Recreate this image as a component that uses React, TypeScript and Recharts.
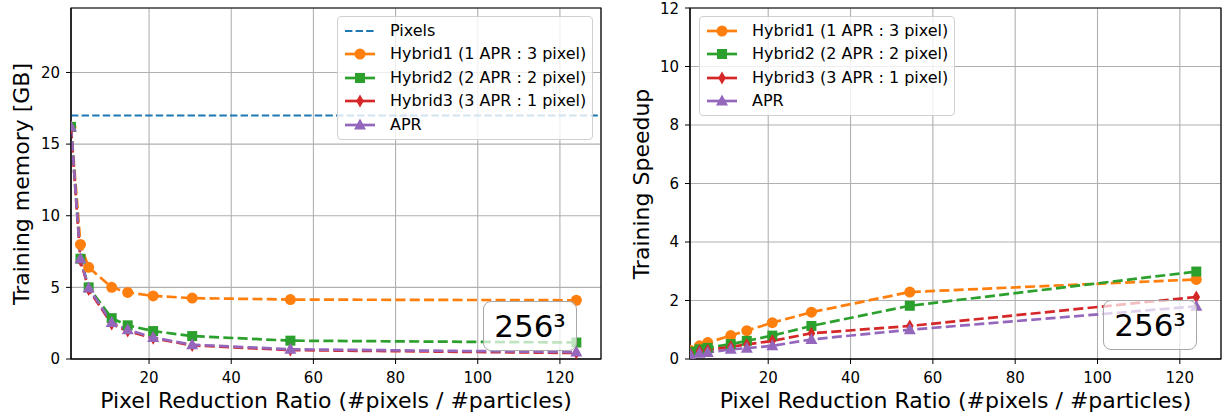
import React from "react";
import {
  CartesianGrid,
  Line,
  LineChart,
  ReferenceArea,
  ReferenceLine,
  XAxis,
  YAxis,
} from "recharts";

const FONT = "DejaVu Sans, sans-serif";

// pixel reduction ratio (#pixels / #particles)
const ratio = [1, 3.3, 5.3, 10.9, 14.8, 21, 30.5, 54.4, 124];
const xTicks = [20, 40, 60, 80, 100, 120];

// training memory [GB]
const pixelsMemory = 17;
const memHybrid1 = [16.2, 8.0, 6.4, 5.0, 4.65, 4.4, 4.25, 4.15, 4.1];
const memHybrid2 = [16.2, 7.0, 5.0, 2.85, 2.35, 1.95, 1.6, 1.28, 1.15];
const memHybrid3 = [16.1, 6.9, 4.85, 2.45, 1.95, 1.45, 0.95, 0.62, 0.42];
const memApr = [16.2, 7.0, 4.95, 2.55, 2.05, 1.5, 1.0, 0.68, 0.48];
const memTicks = [0, 5, 10, 15, 20];

// training speedup
const speedHybrid1 = [0.3, 0.45, 0.56, 0.8, 0.97, 1.24, 1.6, 2.29, 2.72];
const speedHybrid2 = [0.25, 0.33, 0.38, 0.51, 0.62, 0.8, 1.13, 1.82, 2.99];
const speedHybrid3 = [0.2, 0.27, 0.3, 0.42, 0.5, 0.62, 0.88, 1.13, 2.12];
const speedApr = [0.15, 0.2, 0.22, 0.33, 0.37, 0.45, 0.67, 1.0, 1.8];
const speedTicks = [0, 2, 4, 6, 8, 10, 12];

const C = {
  pixels: "#1f77b4",
  h1: "#ff7f0e",
  h2: "#2ca02c",
  h3: "#d62728",
  apr: "#9467bd",
};

const toPoints = (ys: number[]) => ratio.map((x, i) => ({ x, y: ys[i] }));

type MarkerKind = "circle" | "square" | "diamond" | "triangle";

function Marker({ kind, cx, cy, color }: { kind: MarkerKind; cx: number; cy: number; color: string }) {
  if (kind === "circle") return <circle cx={cx} cy={cy} r={5.5} fill={color} />;
  if (kind === "square")
    return <rect x={cx - 5} y={cy - 5} width={10} height={10} fill={color} />;
  if (kind === "diamond")
    return (
      <polygon
        points={`${cx},${cy - 6.5} ${cx + 3.8},${cy} ${cx},${cy + 6.5} ${cx - 3.8},${cy}`}
        fill={color}
      />
    );
  return (
    <polygon
      points={`${cx},${cy - 6.5} ${cx + 6},${cy + 4.5} ${cx - 6},${cy + 4.5}`}
      fill={color}
    />
  );
}

type Series = { name: string; color: string; marker: MarkerKind; values: number[] };

const memSeries: Series[] = [
  { name: "Hybrid1 (1 APR : 3 pixel)", color: C.h1, marker: "circle", values: memHybrid1 },
  { name: "Hybrid2 (2 APR : 2 pixel)", color: C.h2, marker: "square", values: memHybrid2 },
  { name: "Hybrid3 (3 APR : 1 pixel)", color: C.h3, marker: "diamond", values: memHybrid3 },
  { name: "APR", color: C.apr, marker: "triangle", values: memApr },
];

const speedSeries: Series[] = [
  { name: "Hybrid1 (1 APR : 3 pixel)", color: C.h1, marker: "circle", values: speedHybrid1 },
  { name: "Hybrid2 (2 APR : 2 pixel)", color: C.h2, marker: "square", values: speedHybrid2 },
  { name: "Hybrid3 (3 APR : 1 pixel)", color: C.h3, marker: "diamond", values: speedHybrid3 },
  { name: "APR", color: C.apr, marker: "triangle", values: speedApr },
];

function LegendBox({
  left,
  top,
  series,
  withPixels,
}: {
  left: number;
  top: number;
  series: Series[];
  withPixels?: boolean;
}) {
  const row = (key: string, sample: React.ReactNode, label: string) => (
    <div key={key} style={{ display: "flex", alignItems: "center", height: 23.5 }}>
      <svg width={32} height={16} style={{ marginLeft: 6, marginRight: 14, flex: "none" }}>
        {sample}
      </svg>
      <span>{label}</span>
    </div>
  );
  return (
    <div
      style={{
        position: "absolute",
        left,
        top,
        width: 256,
        boxSizing: "border-box",
        padding: "2px 0 2px 0",
        background: "rgba(255,255,255,0.8)",
        border: "1px solid #d0d0d0",
        borderRadius: 4,
        fontFamily: FONT,
        fontSize: 16,
        color: "#000",
        lineHeight: 1,
        whiteSpace: "nowrap",
      }}
    >
      {withPixels &&
        row(
          "pixels",
          <line x1={1} y1={8} x2={31} y2={8} stroke={C.pixels} strokeWidth={2} strokeDasharray="7.4 3.2" />,
          "Pixels"
        )}
      {series.map((s) =>
        row(
          s.name,
          <g>
            <line x1={1} y1={8} x2={31} y2={8} stroke={s.color} strokeWidth={2.7} />
            <Marker kind={s.marker} cx={16} cy={8} color={s.color} />
          </g>,
          s.name
        )
      )}
    </div>
  );
}

function Badge({ left, top }: { left: number; top: number }) {
  return (
    <div
      style={{
        position: "absolute",
        left,
        top,
        width: 94,
        height: 50,
        boxSizing: "border-box",
        border: "1.5px solid #a8a8a8",
        borderRadius: 8,
        background: "rgba(255,255,255,0.7)",
        fontFamily: FONT,
        fontSize: 31,
        display: "flex",
        alignItems: "center",
        justifyContent: "center",
        color: "#000",
      }}
    >
      256³
    </div>
  );
}

function YTitle({ x, text }: { x: number; text: string }) {
  return (
    <div
      style={{
        position: "absolute",
        left: x,
        top: 184,
        transform: "translate(-50%, -50%) rotate(-90deg)",
        whiteSpace: "nowrap",
        fontFamily: FONT,
        fontSize: 22,
        color: "#000",
      }}
    >
      {text}
    </div>
  );
}

function Panel({
  series,
  yMax,
  yTicks,
  marginLeft,
  marginRight,
  pixels,
}: {
  series: Series[];
  yMax: number;
  yTicks: number[];
  marginLeft: number;
  marginRight: number;
  pixels?: number;
}) {
  const tick = { fontFamily: FONT, fontSize: 15, fill: "#000" };
  return (
    <LineChart
      width={611}
      height={413}
      margin={{ top: 8, right: marginRight, left: marginLeft, bottom: 0 }}
    >
      <CartesianGrid stroke="#b0b0b0" strokeWidth={1.1} />
      <XAxis
        type="number"
        dataKey="x"
        domain={[1, 130]}
        ticks={xTicks}
        allowDataOverflow
        height={54}
        tick={tick}
        tickSize={5}
        tickMargin={8}
        stroke="#000"
        label={{
          value: "Pixel Reduction Ratio (#pixels / #particles)",
          position: "insideBottom",
          offset: 5,
          style: { fontFamily: FONT, fontSize: 22, fill: "#000" },
        }}
      />
      <YAxis
        type="number"
        domain={[0, yMax]}
        ticks={yTicks}
        allowDataOverflow
        width={40}
        tick={tick}
        tickSize={5}
        tickMargin={6}
        stroke="#000"
      />
      {pixels !== undefined && (
        <ReferenceLine
          y={pixels}
          stroke={C.pixels}
          strokeWidth={2}
          strokeDasharray="7.4 3.2"
        />
      )}
      {series.map((s) => (
        <Line
          key={s.name}
          data={toPoints(s.values)}
          dataKey="y"
          name={s.name}
          stroke={s.color}
          strokeWidth={2.7}
          strokeDasharray="10 4.3"
          isAnimationActive={false}
          dot={(p: any) => (
            <Marker key={`${s.name}-${p.index}`} kind={s.marker} cx={p.cx} cy={p.cy} color={s.color} />
          )}
          activeDot={false}
        />
      ))}
      <ReferenceArea x1={1} x2={130} y1={0} y2={yMax} fill="none" stroke="#000" strokeWidth={1.2} />
    </LineChart>
  );
}

export default function App() {
  return (
    <div style={{ position: "absolute", left: 0, top: 0, width: 1222, height: 413, background: "#fff" }}>
      <div style={{ position: "absolute", left: 0, top: 0 }}>
        <Panel series={memSeries} yMax={24.5} yTicks={memTicks} marginLeft={31} marginRight={10} pixels={pixelsMemory} />
      </div>
      <div style={{ position: "absolute", left: 611, top: 0 }}>
        <Panel series={speedSeries} yMax={12} yTicks={speedTicks} marginLeft={39} marginRight={1} />
      </div>
      <YTitle x={21} text="Training memory [GB]" />
      <YTitle x={641} text="Training Speedup" />
      <LegendBox left={337} top={16} series={memSeries} withPixels />
      <LegendBox left={699} top={16} series={speedSeries} />
      <Badge left={483} top={301} />
      <Badge left={1103} top={300} />
    </div>
  );
}
